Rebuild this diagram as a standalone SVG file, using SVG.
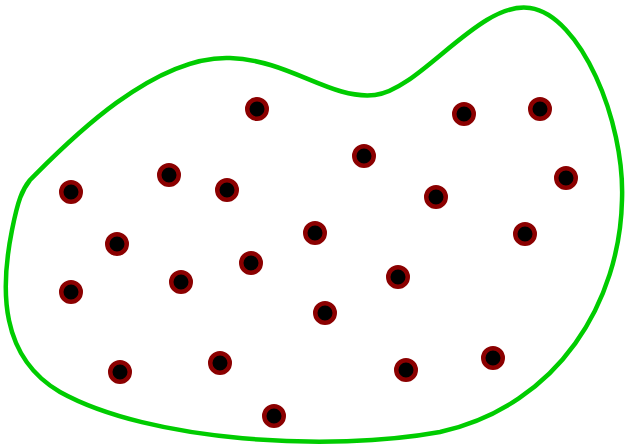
<svg xmlns="http://www.w3.org/2000/svg" width="625" height="445" viewBox="0 0 625 445">
<style>
.blob{fill:none;stroke:#00CC00;stroke-width:4.5;stroke-linejoin:round}
.dot{fill:#000;stroke:#8B0000;stroke-width:4.5}
</style>
<rect width="625" height="445" fill="#fff"/>
<g id="region">
<path class="blob" d="M 30,180 C 60,150 150,55 230,58 C 290,60 330,100 375,95 C 420,90 480,0 530,8 C 580,15 625,120 622,200 C 620,300 560,405 440,432 C 330,452 150,442 60,392 C 0,357 0,290 12,230 C 18,200 22,190 30,180 Z"/>
</g>
<g id="points">
<circle class="dot" cx="257" cy="109" r="9.75"/>
<circle class="dot" cx="464" cy="114" r="9.75"/>
<circle class="dot" cx="540" cy="109" r="9.75"/>
<circle class="dot" cx="364" cy="156" r="9.75"/>
<circle class="dot" cx="71" cy="192" r="9.75"/>
<circle class="dot" cx="169" cy="175" r="9.75"/>
<circle class="dot" cx="227" cy="190" r="9.75"/>
<circle class="dot" cx="436" cy="197" r="9.75"/>
<circle class="dot" cx="566" cy="178" r="9.75"/>
<circle class="dot" cx="117" cy="244" r="9.75"/>
<circle class="dot" cx="315" cy="233" r="9.75"/>
<circle class="dot" cx="525" cy="234" r="9.75"/>
<circle class="dot" cx="71" cy="292" r="9.75"/>
<circle class="dot" cx="181" cy="282" r="9.75"/>
<circle class="dot" cx="251" cy="263" r="9.75"/>
<circle class="dot" cx="398" cy="277" r="9.75"/>
<circle class="dot" cx="325" cy="313" r="9.75"/>
<circle class="dot" cx="120" cy="372" r="9.75"/>
<circle class="dot" cx="220" cy="363" r="9.75"/>
<circle class="dot" cx="406" cy="370" r="9.75"/>
<circle class="dot" cx="493" cy="358" r="9.75"/>
<circle class="dot" cx="274" cy="416" r="9.75"/>
</g>
</svg>
